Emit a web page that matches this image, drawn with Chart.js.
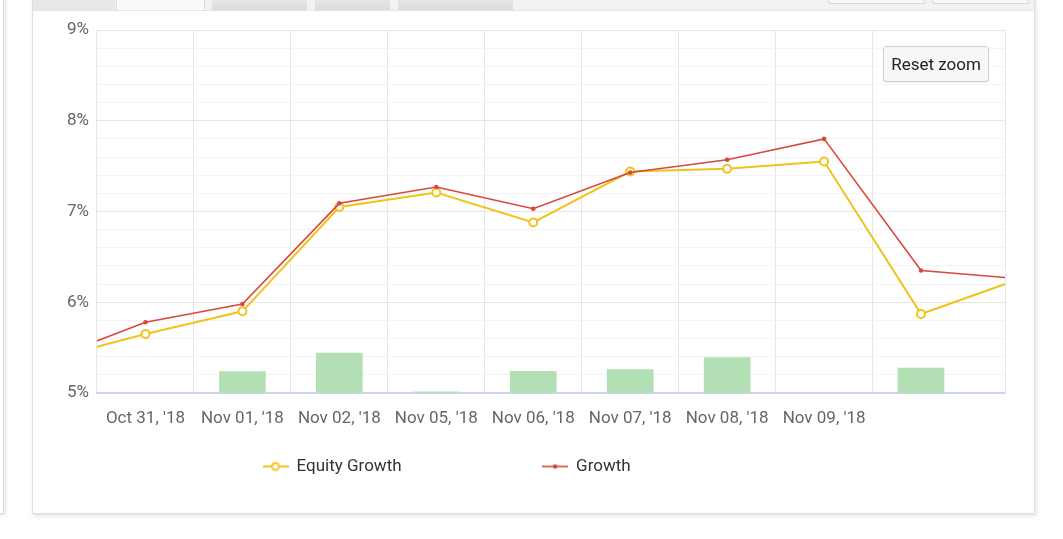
<!DOCTYPE html>
<html><head><meta charset="utf-8">
<script src="https://cdn.jsdelivr.net/npm/chart.js@4.4.1/dist/chart.umd.min.js"></script>
<style>
html,body{margin:0;padding:0;background:#fff;width:1063px;height:539px;overflow:hidden;font-family:Roboto,sans-serif}
.abs{position:absolute}
#leftPanel{left:-20px;top:-10px;width:22px;height:522px;border:1px solid #dcdcdc;box-shadow:2px 1px 4px rgba(0,0,0,.10);background:#fff}
#panel{left:32px;top:-10px;width:1001px;height:522px;border:1px solid #dedede;box-shadow:1px 2px 4px rgba(0,0,0,.12);background:#fff}
#strip{left:33px;top:0;width:1001px;height:10px;background:#f2f2f2;border-bottom:1px solid #e4e4e4}
.tab{top:0;height:10px;background:linear-gradient(#e6e6e6,#dcdcdc)}
.btn{top:-4px;height:6px;background:#f7f7f7;border:1px solid #d6d6d6;border-radius:2px}
#reset{left:883px;top:46px;width:106px;height:36px;box-sizing:border-box;border:1px solid #cfcfcf;border-radius:3px;background:#f7f7f7;font:17px Roboto,sans-serif;color:#222;display:flex;align-items:center;justify-content:center;z-index:5;box-shadow:0 1px 1px rgba(0,0,0,.06)}
#c{position:absolute;left:0;top:0;z-index:2}
</style></head>
<body>
<div id="leftPanel" class="abs"></div>
<div id="panel" class="abs"></div>
<div id="strip" class="abs"></div>
<div class="abs tab" style="left:33px;width:82px;background:#e8e8e8"></div>
<div class="abs tab" style="left:116px;width:87px;background:#fafafa;border-left:1px solid #ddd;border-right:1px solid #ddd"></div>
<div class="abs tab" style="left:212px;width:95px"></div>
<div class="abs tab" style="left:315px;width:75px"></div>
<div class="abs tab" style="left:398px;width:115px"></div>
<div class="abs btn" style="left:828px;width:95px"></div>
<div class="abs btn" style="left:932px;width:95px"></div>
<canvas id="c" width="1063" height="539"></canvas>
<div id="reset" class="abs">Reset zoom</div>
<script>
// ---- data ----
const xPositions = [-1, 0, 1, 2, 3, 4, 5, 6, 7, 8, 9];
const tickLabels = ["Oct 31, '18", "Nov 01, '18", "Nov 02, '18", "Nov 05, '18", "Nov 06, '18", "Nov 07, '18", "Nov 08, '18", "Nov 09, '18", ""];
const equityGrowth = [5.37, 5.65, 5.90, 7.05, 7.21, 6.88, 7.44, 7.47, 7.55, 5.87, 6.25];
const growth       = [5.37, 5.78, 5.98, 7.09, 7.27, 7.03, 7.43, 7.57, 7.80, 6.35, 6.26];
const bars         = [null, null, 5.235, 5.44, 5.013, 5.24, 5.257, 5.39, null, 5.275, null];
const seriesNames = ["Equity Growth", "Growth"];
const Y_MIN = 5, Y_MAX = 9, Y_STEP = 0.2;
const X_MIN = -0.5, X_MAX = 8.866;

const YELLOW = '#f0c31c', RED = '#d8483d', GREEN = '#b2dfb4';

function toXY(vals){ return vals.map((v,i)=>({x:xPositions[i], y:v})); }

function makeIcon(color, kind){
  const cv = document.createElement('canvas'); cv.width = 26; cv.height = 12;
  const g = cv.getContext('2d');
  g.strokeStyle = color; g.lineWidth = kind === 'circle' ? 2 : 1.6;
  g.beginPath(); g.moveTo(0, 6); g.lineTo(26, 6); g.stroke();
  if (kind === 'circle') {
    g.beginPath(); g.arc(13, 6, 3.5, 0, Math.PI*2); g.fillStyle = '#fff'; g.fill(); g.lineWidth = 2; g.stroke();
  } else {
    g.beginPath(); g.arc(13, 6, 2.3, 0, Math.PI*2); g.fillStyle = color; g.fill();
  }
  return cv;
}
const icons = [makeIcon(YELLOW,'circle'), makeIcon(RED,'dot')];

const LEG_X = 263, LEG_Y = 458, LEG_PAD = 141;
const legendPlace = {
  id: 'legendPlace',
  afterLayout(chart){
    const lg = chart.legend; if (!lg) return;
    lg.left = LEG_X - LEG_PAD; lg.right = lg.left + lg.width;
    lg.top = LEG_Y - LEG_PAD; lg.height = LEG_PAD + 40; lg.bottom = lg.top + lg.height;
  }
};

const isInt = v => Math.abs(v - Math.round(v)) < 1e-6;

Chart.defaults.font.family = 'Roboto, sans-serif';
Chart.defaults.color = '#666';

new Chart(document.getElementById('c'), {
  type: 'line',
  data: {
    datasets: [
      { type:'line', label: seriesNames[0], data: toXY(equityGrowth), borderColor: YELLOW, backgroundColor: '#fff',
        borderWidth: 2, pointRadius: 4, pointBorderWidth: 2, pointBackgroundColor: '#fff', pointBorderColor: YELLOW,
        tension: 0, clip: 0, order: 1 },
      { type:'line', label: seriesNames[1], data: toXY(growth), borderColor: RED, backgroundColor: RED,
        borderWidth: 1.6, pointRadius: 2.3, pointBorderWidth: 0, pointBackgroundColor: RED,
        tension: 0, clip: 0, order: 0 },
      { type:'bar', label: 'Volume', data: toXY(bars), backgroundColor: GREEN, borderWidth: 0,
        barThickness: 46, base: Y_MIN, order: 2 }
    ]
  },
  options: {
    responsive: false, animation: false,
    layout: { padding: { top: 30, left: 0, right: 0, bottom: 46 } },
    scales: {
      x: {
        type: 'linear', min: X_MIN, max: X_MAX, offset: false,
        afterFit: s => { s.height = 60; },
        ticks: { stepSize: 1, includeBounds: false, autoSkip: false, maxRotation: 0, maxTicksLimit: 30,
          padding: 16, font: { size: 17 }, color: '#666',
          callback: v => (isInt(v) && tickLabels[Math.round(v)] !== undefined) ? tickLabels[Math.round(v)] : '' },
        grid: { offset: true, drawTicks: false, lineWidth: 1,
          color: ctx => (ctx.tick === undefined ? 'rgba(0,0,0,0)' : '#e6e6e6') },
        border: { display: true, color: '#ccd6eb', width: 2 }
      },
      y: {
        position: 'left', min: Y_MIN, max: Y_MAX,
        afterFit: s => { s.width = 97; },
        ticks: { stepSize: Y_STEP, autoSkip: false, maxTicksLimit: 40, padding: 8, font: { size: 17 }, color: '#666',
          callback: v => isInt(v) ? Math.round(v) + '%' : '' },
        grid: { drawTicks: false, lineWidth: 1,
          color: ctx => (ctx.tick && isInt(ctx.tick.value)) ? '#e6e6e6' : '#f3f3f3' },
        border: { display: false }
      },
      yR: {
        position: 'right', min: Y_MIN, max: Y_MAX, display: true,
        afterFit: s => { s.width = 58; },
        ticks: { display: false },
        grid: { drawOnChartArea: false, drawTicks: false },
        border: { display: true, color: '#e6e6e6', width: 1 }
      }
    },
    plugins: {
      tooltip: { enabled: false },
      legend: {
        position: 'bottom', align: 'start', maxHeight: 40,
        labels: {
          usePointStyle: true, pointStyleWidth: 25, padding: LEG_PAD, color: '#333',
          font: { size: 17 },
          generateLabels: chart => chart.data.datasets.slice(0, 2).map((ds, i) => ({
            text: ds.label, pointStyle: icons[i], fillStyle: ds.borderColor, strokeStyle: ds.borderColor,
            lineWidth: 0, hidden: false, datasetIndex: i, fontColor: '#333'
          }))
        }
      }
    }
  },
  plugins: [legendPlace]
});
</script>
</body></html>
